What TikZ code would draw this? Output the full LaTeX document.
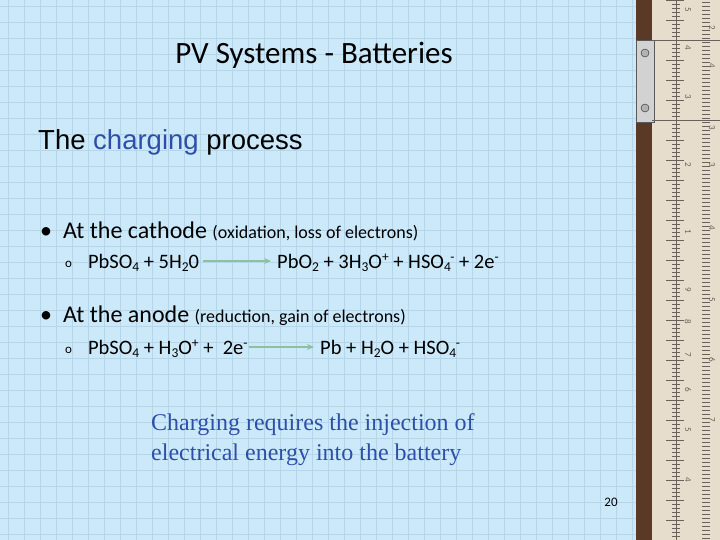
\documentclass[tikz,border=0pt]{standalone}
\usepackage{fontspec}
\setmainfont{Carlito}
\newfontfamily\arialf{Liberation Sans}
\newfontfamily\timesf{Liberation Serif}
\usetikzlibrary{arrows.meta}
\definecolor{bg}{HTML}{CCE9FA}
\definecolor{gridc}{HTML}{B5D6EA}
\definecolor{blu}{HTML}{2E4FA8}
\definecolor{arr}{HTML}{8CC0A0}
\definecolor{brn}{HTML}{5A3A26}
\definecolor{beige}{HTML}{E6DDCC}
\definecolor{tick}{HTML}{6A625A}
\newcommand\mydn[1]{\raisebox{-0.35ex}{\fontsize{13.5}{12}\selectfont #1}}
\newcommand\myup[1]{\raisebox{0.65ex}{\fontsize{13.5}{12}\selectfont #1}}
\newcommand\mysubsup[2]{\mydn{#1}\hspace{-0.5pt}\myup{#2}}
\newcommand\mycirc{\raisebox{0.1ex}{\fontsize{13}{11}\selectfont o}}
\tikzset{txt/.style={anchor=base west,inner sep=0pt},
 eqarrow/.style={draw=arr,line width=1.5pt,-{Stealth[length=7pt,width=6pt]}}}
\begin{document}
\begin{tikzpicture}[x=1pt,y=-1pt]
\useasboundingbox (0,0) rectangle (720,540);
\fill[bg] (0,0) rectangle (720,540);
\foreach \x in {8,24,...,636} \draw[gridc,line width=0.6pt] (\x,0) -- (\x,540);
\foreach \y in {6,22,...,540} \draw[gridc,line width=0.6pt] (0,\y) -- (636,\y);
% ruler
\fill[brn] (636,0) rectangle (652,540);
\fill[beige] (652,0) rectangle (720,540);
\foreach \y in {0,4,...,540} \draw[tick,line width=0.5pt] (672,\y) -- (680,\y);
\foreach \y in {0,20,...,540} \draw[tick,line width=0.6pt] (666,\y) -- (684,\y);
\foreach \y in {2,6,...,540} \draw[tick,line width=0.5pt] (702,\y) -- (710,\y);
\draw[tick,line width=0.6pt] (676,0) -- (676,540);
\fill[gray!35] (636,40) rectangle (654,122);
\draw[gray!70!black,line width=0.8pt] (636,40) rectangle (654,122);
\fill[gray!60] (645,53) circle (4); \fill[gray!60] (645,108) circle (4);
\draw[gray!30!black] (645,53) circle (4) (645,108) circle (4);
\draw[tick] (652,40) -- (720,40) (652,120) -- (720,120);
\foreach \y/\t in {10/5,48/4,97/3,165/2,232/1,290/9,322/8,355/7,390/6,430/5,480/4} \node[font=\fontsize{9}{9}\selectfont,rotate=-90,tick] (r\y) at (688,\y) {\t};
\foreach \y/\t in {28/2,66/4,128/3,165/3,228/4,300/5,360/6,420/7} \node[font=\fontsize{9}{9}\selectfont,rotate=-90,tick] (s\y) at (712,\y) {\t};
% title
\node[font=\fontsize{31}{34}\selectfont] (title) at (314,55) {PV Systems - Batteries};
\node[txt,font=\arialf\fontsize{27.5}{30}\selectfont] (sub) at (38,150) {The {\color{blu}charging} process};
\node[txt,font=\fontsize{24}{26}\selectfont] (b1) at (40,238) {\textbullet\hspace{11pt}At the cathode {\fontsize{18}{18}\selectfont(oxidation, loss of electrons)}};
\node[txt,font=\fontsize{20.5}{20}\selectfont] (e1l) at (65,268) {\mycirc\hspace{16pt}PbSO\mydn{4} + 5H\mydn{2}0};
\node[txt,font=\fontsize{20.5}{20}\selectfont] (e1r) at (277,268) {PbO\mydn{2} + 3H\mydn{3}O\myup{+} + HSO\mysubsup{4}{-} + 2e\myup{-}};
\draw[eqarrow] ([xshift=4pt,yshift=7pt]e1l.base east) -- ([xshift=-6pt,yshift=7pt]e1r.base west);
\node[txt,font=\fontsize{24}{26}\selectfont] (b2) at (40,322) {\textbullet\hspace{11pt}At the anode {\fontsize{18}{18}\selectfont(reduction, gain of electrons)}};
\node[txt,font=\fontsize{20.5}{20}\selectfont] (e2l) at (65,354) {\mycirc\hspace{16pt}PbSO\mydn{4} + H\mydn{3}O\myup{+} +\ \ 2e\myup{-}};
\node[txt,font=\fontsize{20.5}{20}\selectfont] (e2r) at (320,354) {Pb + H\mydn{2}O + HSO\mysubsup{4}{-}};
\draw[eqarrow] ([xshift=1pt,yshift=7pt]e2l.base east) -- ([xshift=-6pt,yshift=7pt]e2r.base west);
\node[anchor=north west,inner sep=0pt,align=left,blu,font=\timesf\fontsize{24}{30}\selectfont] (concl) at (151,413) {Charging requires the injection of\\electrical energy into the battery};
\node[font=\fontsize{13}{15}\selectfont] (pg) at (611,502) {20};
\end{tikzpicture}
\end{document}
